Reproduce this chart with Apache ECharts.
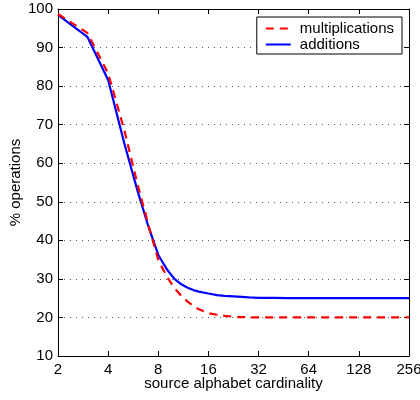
<!DOCTYPE html>
<html>
<head>
<meta charset="utf-8">
<script src="https://cdn.jsdelivr.net/npm/echarts@6/dist/echarts.min.js"></script>
<style>html,body{margin:0;padding:0;background:#fff}#c{width:420px;height:400px}</style>
</head>
<body>
<div id="c"></div>
<script>
// source alphabet cardinality
var cardinality = [2, 3, 4, 5, 6, 7, 8, 9, 10, 11, 12, 13, 14, 16, 18, 20, 24, 28, 32, 40, 48, 64, 128, 256];
var multiplications = [98.7, 93.8, 83.3, 68.6, 54.6, 43.8, 34.9, 30.6, 27.6, 25.6, 24.1, 23.0, 22.1, 21.1, 20.7, 20.4, 20.1, 20.05, 20.0, 20.0, 20.0, 20.0, 20.0, 20.0];
var additions = [98.5, 92.8, 81.6, 65.2, 52.9, 43.4, 36.2, 32.5, 30.0, 28.6, 27.7, 27.1, 26.7, 26.2, 25.8, 25.6, 25.4, 25.2, 25.1, 25.05, 25.0, 25.0, 25.0, 25.0];
var xTicks = [2, 4, 8, 16, 32, 64, 128, 256];
var yMin = 10, yMax = 100, yStep = 10;

function pairs(xs, ys) { return xs.map(function (x, i) { return [x, ys[i]]; }); }

var font = 'Liberation Sans, Arial, Helvetica, sans-serif';
var baseX = {
  type: 'log', logBase: 2, min: xTicks[0], max: xTicks[xTicks.length - 1],
  axisLine: { show: true, lineStyle: { color: '#000', width: 1 } },
  axisTick: { show: true, inside: true, length: 5, lineStyle: { color: '#000' } },
  splitLine: { show: false }
};
var baseY = {
  type: 'value', min: yMin, max: yMax, interval: yStep,
  axisLine: { show: true, lineStyle: { color: '#000', width: 1 } },
  axisTick: { show: true, inside: true, length: 5, lineStyle: { color: '#000' } }
};

var chart = echarts.init(document.getElementById('c'), null, { renderer: 'canvas' });
chart.setOption({
  backgroundColor: '#fff',
  animation: false,
  textStyle: { fontFamily: font },
  grid: { left: 58, right: 11, top: 9, bottom: 44, containLabel: false, outerBoundsMode: 'none' },
  legend: {
    orient: 'vertical', right: 18, top: 17,
    backgroundColor: '#fff', borderColor: '#000', borderWidth: 1,
    padding: [4, 8, 2, 8], itemGap: 1, itemWidth: 25, itemHeight: 14,
    itemStyle: { opacity: 0 },
    textStyle: { fontFamily: font, fontSize: 15, color: '#000', padding: [0, 0, 0, 4] },
    data: ['multiplications', 'additions']
  },
  xAxis: [
    Object.assign({}, baseX, {
      position: 'bottom',
      name: 'source alphabet cardinality', nameLocation: 'middle', nameGap: 20,
      nameMoveOverlap: false,
      nameTextStyle: { fontFamily: font, fontSize: 15, color: '#000' },
      axisLabel: { show: true, margin: 6, color: '#000', fontSize: 15, fontFamily: font,
        formatter: function (v) { return String(Math.round(v)); } }
    }),
    Object.assign({}, baseX, { position: 'top', axisLabel: { show: false } })
  ],
  yAxis: [
    Object.assign({}, baseY, {
      position: 'left',
      name: '% operations', nameLocation: 'middle', nameGap: 35,
      nameMoveOverlap: false,
      nameTextStyle: { fontFamily: font, fontSize: 15, color: '#000' },
      axisLabel: { show: true, margin: 5, color: '#000', fontSize: 15, fontFamily: font },
      splitLine: { show: true, lineStyle: { color: '#555', type: [1, 5], width: 1 } }
    }),
    Object.assign({}, baseY, { position: 'right', axisLabel: { show: false }, splitLine: { show: false } })
  ],
  series: [
    {
      name: 'multiplications', type: 'line', xAxisIndex: 0, yAxisIndex: 0,
      data: pairs(cardinality, multiplications), symbol: 'none', z: 3,
      lineStyle: { color: '#ff0000', width: 2.2, type: [8, 6] },
      itemStyle: { color: '#ff0000' }
    },
    {
      name: 'additions', type: 'line', xAxisIndex: 0, yAxisIndex: 0,
      data: pairs(cardinality, additions), symbol: 'none', z: 2,
      lineStyle: { color: '#0000ff', width: 2.2, type: 'solid' },
      itemStyle: { color: '#0000ff' }
    }
  ]
});
</script>
</body>
</html>
